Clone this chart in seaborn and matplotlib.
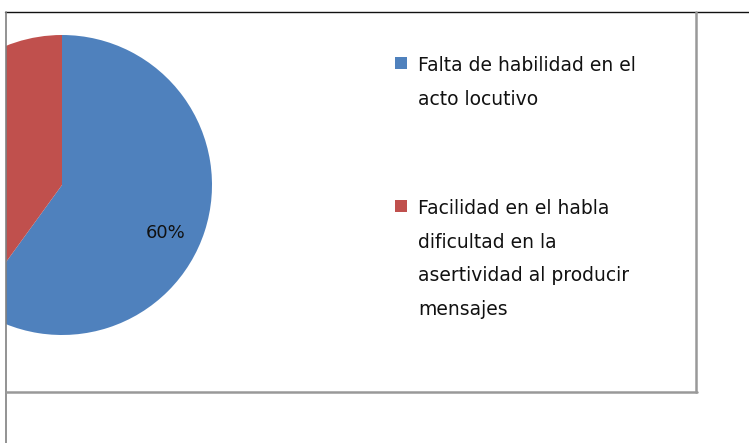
import matplotlib
matplotlib.use("Agg")
import matplotlib.pyplot as plt
from matplotlib.lines import Line2D
from matplotlib.patches import Rectangle
import seaborn as sns

labels = ["Falta de habilidad en el\nacto locutivo",
          "Facilidad en el habla\ndificultad en la\nasertividad al producir\nmensajes"]
values = [60, 40]
colors = sns.color_palette(["#4F81BD", "#C0504D"])

sns.set_theme(style="white")
plt.rcParams['font.family'] = ['DejaVu Sans']

W, H = 749, 443
fig = plt.figure(figsize=(W / 100, H / 100), dpi=100)

def fx(x):
    return x / W

def fy(y):
    return 1 - y / H

# chart area (pixel coordinates, y measured upward)
x0, x1, y0, y1 = 6, 696, 12, 392
ax = fig.add_axes([fx(x0), fy(y1), fx(x1) - fx(x0), fy(y0) - fy(y1)])
wedges, _, autotexts = ax.pie(values, colors=colors, startangle=90, counterclock=False,
                              center=(62, H - 185), radius=150, autopct='%d%%',
                              pctdistance=0.77, frame=True,
                              wedgeprops={'linewidth': 0, 'edgecolor': 'none'},
                              textprops={'fontsize': 13, 'color': '#111111'})
ax.set_xlim(x0, x1)
ax.set_ylim(H - y1, H - y0)
ax.set_aspect('auto')
ax.set_xticks([])
ax.set_yticks([])
for s in ax.spines.values():
    s.set_visible(False)
for w in wedges:
    w.set_clip_on(True)
    w.set_clip_path(ax.patch)
autotexts[0].set_position((166, H - 233))
autotexts[1].set_visible(False)  # falls outside the visible area

# frame lines
fig.add_artist(Line2D([fx(5), 1], [fy(11.5), fy(11.5)], color='#111111', lw=1.0))
fig.add_artist(Line2D([fx(6), fx(6)], [fy(11.5), 0], color='#808080', lw=1.2))
fig.add_artist(Line2D([fx(696), fx(696)], [fy(12), fy(392)], color='#999999', lw=1.8))
fig.add_artist(Line2D([fx(6), fx(697)], [fy(392), fy(392)], color='#999999', lw=1.8))

# legend
entry_y = [57, 200]
for lab, col, ty in zip(labels, colors, entry_y):
    fig.add_artist(Rectangle((fx(395), fy(ty + 12)), fx(12), 12 / H,
                             facecolor=col, edgecolor='none'))
    fig.text(fx(418), fy(ty - 1), lab, fontsize=13.5, color='#111111',
             va='top', ha='left', linespacing=1.97)

fig.savefig("out.png", dpi=100)
